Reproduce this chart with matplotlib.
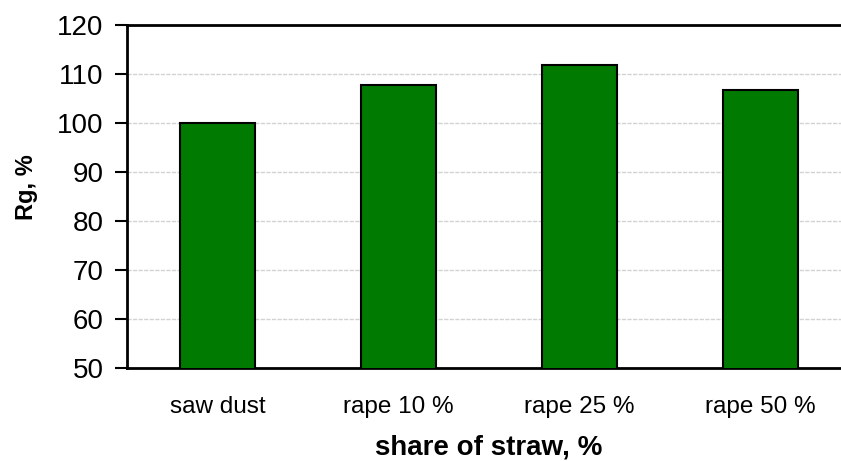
import matplotlib.pyplot as plt
import numpy as np

plt.rcParams['font.family'] = ['Liberation Sans', 'DejaVu Sans']

categories = ['saw dust', 'rape 10 %', 'rape 25 %', 'rape 50 %']
rg_values = [100.0, 107.8, 111.9, 106.8]
y_ticks = [50, 60, 70, 80, 90, 100, 110, 120]

fig = plt.figure(figsize=(8.41, 4.61), dpi=100)
ax = fig.add_axes([0.151, 0.2017, 0.861, 0.7441])

x = np.arange(len(categories))
ax.bar(x, rg_values, width=0.41, color='#007A00', edgecolor='black', linewidth=1.5, zorder=3)

ax.set_xlim(-0.5, len(categories) - 0.5)
ax.set_ylim(50, 120)
ax.set_yticks(y_ticks)
ax.set_xticks(x)
ax.set_xticklabels(categories)

ax.grid(axis='y', color='#d2d2d2', linestyle=(0, (3, 1)), linewidth=1, zorder=0)
ax.tick_params(axis='y', direction='out', length=9, width=1.5, pad=8, labelsize=20)
ax.tick_params(axis='x', length=0, pad=20, labelsize=17.5)

for side in ['left', 'top', 'bottom']:
    ax.spines[side].set_linewidth(2)
ax.spines['right'].set_visible(False)

ax.set_ylabel('Rg, %', fontsize=17, fontweight='bold')
ax.yaxis.set_label_coords(-0.123, 0.528)
ax.set_xlabel('share of straw, %', fontsize=20, fontweight='bold', labelpad=12)

fig.savefig('out.png', dpi=100)
